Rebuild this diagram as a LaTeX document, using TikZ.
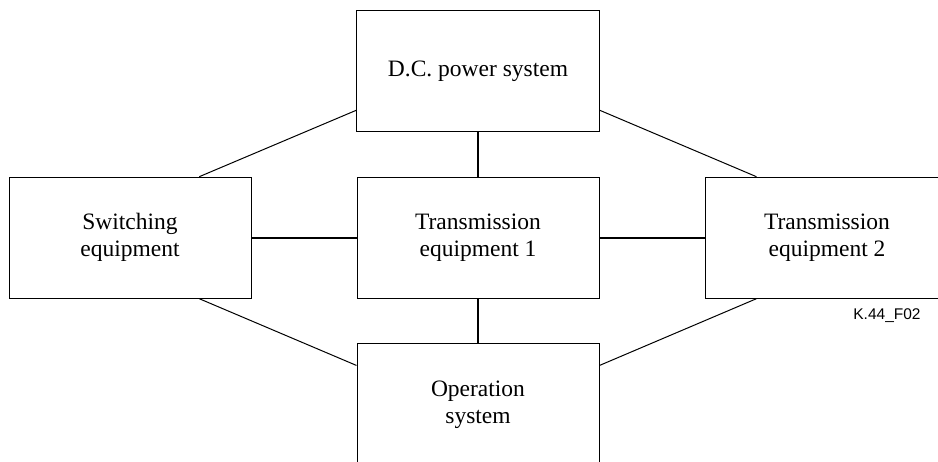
\documentclass[tikz,border=0pt]{standalone}
\usepackage{fontspec}
\setmainfont{Liberation Serif}
\newfontfamily\labelfont{Liberation Sans}
\usetikzlibrary{calc}
\tikzset{
  blockbox/.style={draw=black, line width=1pt, rectangle, inner sep=0pt,
    align=center, font=\fontsize{23.5}{27}\selectfont},
  thicklink/.style={draw=black, line width=2pt},
  thinlink/.style={draw=black, line width=1pt},
}
\begin{document}
\begin{tikzpicture}[x=1pt,y=-1pt]
\clip (0,0) rectangle (938,462);
\fill[white] (0,0) rectangle (938,462);
\node[blockbox, minimum width=242.3pt, minimum height=120.7pt] (DC) at (478,71.3) {D.C. power system};
\node[blockbox, minimum width=242pt, minimum height=121pt] (SW) at (130,237.7) {Switching\\equipment};
\node[blockbox, minimum width=242pt, minimum height=121pt] (TE1) at (478,237.7) {Transmission\\equipment 1};
\node[blockbox, minimum width=244pt, minimum height=121pt] (TE2) at (827,237.7) {Transmission\\equipment 2};
\node[blockbox, minimum width=242pt, minimum height=121pt] (OP) at (478,404.5) {Operation\\system};
\node[font=\labelfont\fontsize{15.5}{18}\selectfont, inner sep=0pt] (FIG) at (887,316) {K.44\_F02};
\draw[thicklink] (DC) -- (TE1);
\draw[thicklink] (TE1) -- (OP);
\draw[thicklink] (SW) -- (TE1);
\draw[thicklink] (TE1) -- (TE2);
\draw[thinlink] ($(DC.south west)!0.18!(DC.north west)$) -- ($(SW.north west)!0.785!(SW.north east)$);
\draw[thinlink] ($(DC.south east)!0.18!(DC.north east)$) -- ($(TE2.north west)!0.212!(TE2.north east)$);
\draw[thinlink] ($(SW.south west)!0.785!(SW.south east)$) -- ($(OP.north west)!0.18!(OP.south west)$);
\draw[thinlink] ($(TE2.south west)!0.212!(TE2.south east)$) -- ($(OP.north east)!0.18!(OP.south east)$);
\end{tikzpicture}
\end{document}
